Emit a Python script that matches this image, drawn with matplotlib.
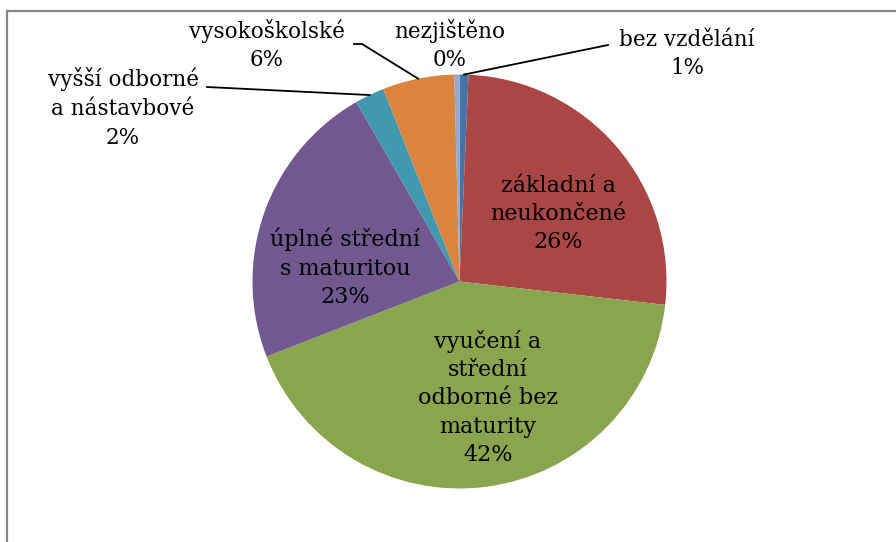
import numpy as np
import matplotlib
matplotlib.use('Agg')
import matplotlib.pyplot as plt
from matplotlib.lines import Line2D

# ---- data ----
categories = ['bez vzdělání', 'základní a\nneukončené',
              'vyučení a\nstřední\nodborné bez\nmaturity',
              'úplné střední\ns maturitou', 'vyšší odborné\na nástavbové',
              'vysokoškolské', 'nezjištěno']
shares = [0.7, 26.1, 42.3, 22.6, 2.3, 5.6, 0.4]
colors = ['#4572A7', '#AA4643', '#89A54E', '#71588F', '#4198AF', '#DB843D', '#93A9CF']

# ---- layout (pixels) ----
W, H = 896, 542
cx, cy, R = 459.5, 281.5, 207.0
label_px = [(687, 54), (558, 214), (488, 398), (345, 268), (123, 108), (267, 45), (450, 45)]
inside = [False, True, True, True, False, False, False]
leader_px = {0: [(608, 45)], 4: [(207, 87)], 5: [(354, 44), (362, 44)]}

plt.rcParams['font.family'] = ['DejaVu Serif', 'DejaVu Sans']

fig = plt.figure(figsize=(W / 100, H / 100), dpi=100)
ax = fig.add_axes([(cx - R) / W, (H - cy - R) / H, 2 * R / W, 2 * R / H])
wedges, _ = ax.pie(shares, colors=colors, startangle=90, counterclock=False,
                   radius=1, wedgeprops=dict(linewidth=0))
ax.set_xlim(-1, 1)
ax.set_ylim(-1, 1)
ax.axis('off')


def px2d(p):
    return ((p[0] - cx) / R, (cy - p[1]) / R)


for i, (cat, v) in enumerate(zip(categories, shares)):
    x, y = px2d(label_px[i])
    fs, ls = (16, 1.38) if inside[i] else (15.5, 1.4)
    ax.text(x, y, f"{cat}\n{v:.0f}%", ha='center', va='center', fontsize=fs,
            color='black', linespacing=ls, clip_on=False)
    if i in leader_px:
        w = wedges[i]
        th = np.deg2rad((w.theta1 + w.theta2) / 2)
        pts = [px2d(p) for p in leader_px[i]] + [(np.cos(th), np.sin(th))]
        xs, ys = zip(*pts)
        ax.plot(xs, ys, color='black', lw=1.3, clip_on=False)

# chart area border (top and left visible)
fig.add_artist(Line2D([7 / W, 1], [1 - 11 / H, 1 - 11 / H], color='#868686', lw=1.6,
                      transform=fig.transFigure))
fig.add_artist(Line2D([7 / W, 7 / W], [0, 1 - 11 / H], color='#868686', lw=1.6,
                      transform=fig.transFigure))

fig.savefig('out.png', dpi=100)
